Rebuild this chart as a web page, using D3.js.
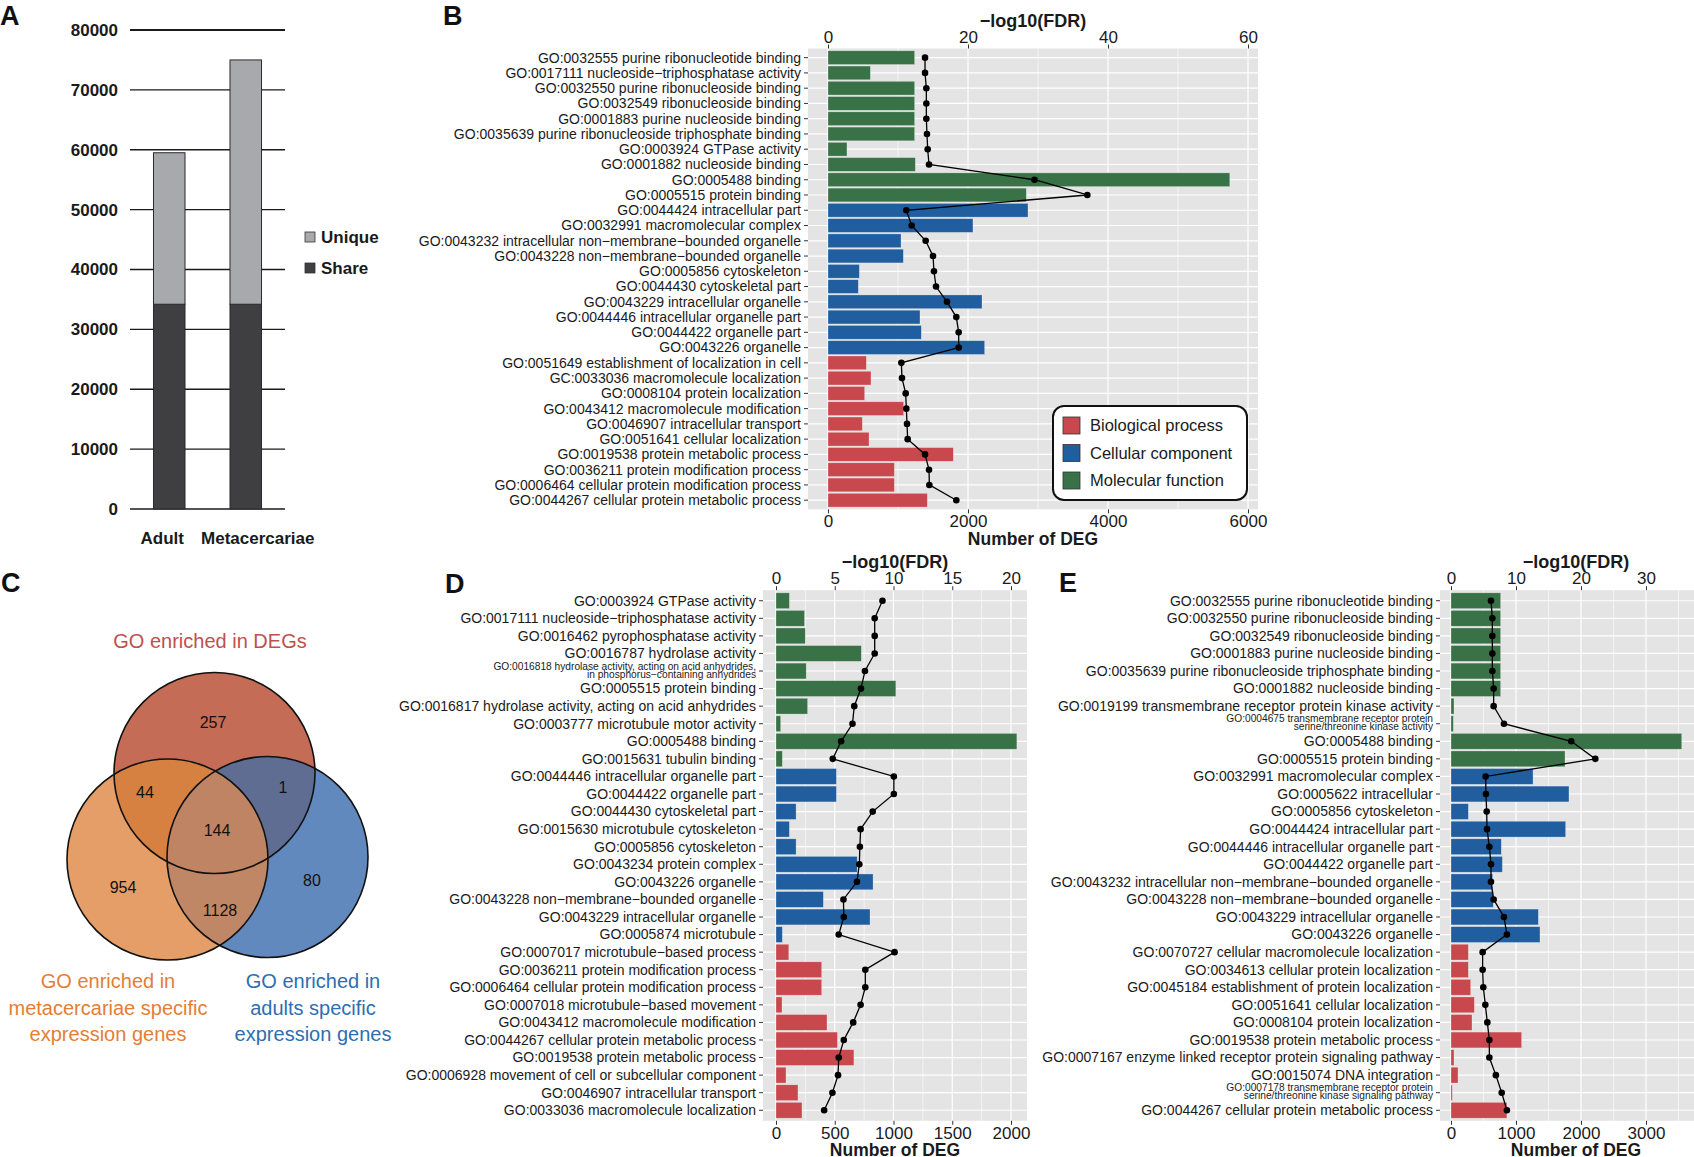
<!DOCTYPE html>
<html>
<head>
<meta charset="utf-8">
<script src="https://cdn.jsdelivr.net/npm/d3@7"></script>
<style>
body { margin: 0; background: #fff; }
svg { font-family: 'Liberation Sans', Arial, sans-serif; }
</style>
</head>
<body>
<svg id="fig" width="1694" height="1157"></svg>
<script>
// ---------- data ----------
// panel A
const stages = ['Adult', 'Metacercariae'];
const shareCounts = [34200, 34200];
const uniqueCounts = [25300, 40800];
const aTicks = [0, 10000, 20000, 30000, 40000, 50000, 60000, 70000, 80000];

// panel C (venn)
const vennRegions = ['DEG only', 'DEG+meta', 'DEG+adult', 'all', 'meta only', 'adult only', 'meta+adult'];
const vennCounts = [257, 44, 1, 144, 954, 80, 1128];

// panel B
const bTerms = [
  'GO:0032555 purine ribonucleotide binding',
  'GO:0017111 nucleoside−triphosphatase activity',
  'GO:0032550 purine ribonucleoside binding',
  'GO:0032549 ribonucleoside binding',
  'GO:0001883 purine nucleoside binding',
  'GO:0035639 purine ribonucleoside triphosphate binding',
  'GO:0003924 GTPase activity',
  'GO:0001882 nucleoside binding',
  'GO:0005488 binding',
  'GO:0005515 protein binding',
  'GO:0044424 intracellular part',
  'GO:0032991 macromolecular complex',
  'GO:0043232 intracellular non−membrane−bounded organelle',
  'GO:0043228 non−membrane−bounded organelle',
  'GO:0005856 cytoskeleton',
  'GO:0044430 cytoskeletal part',
  'GO:0043229 intracellular organelle',
  'GO:0044446 intracellular organelle part',
  'GO:0044422 organelle part',
  'GO:0043226 organelle',
  'GO:0051649 establishment of localization in cell',
  'GC:0033036 macromolecule localization',
  'GO:0008104 protein localization',
  'GO:0043412 macromolecule modification',
  'GO:0046907 intracellular transport',
  'GO:0051641 cellular localization',
  'GO:0019538 protein metabolic process',
  'GO:0036211 protein modification process',
  'GO:0006464 cellular protein modification process',
  'GO:0044267 cellular protein metabolic process'
];
const bCats = ['MF','MF','MF','MF','MF','MF','MF','MF','MF','MF',
  'CC','CC','CC','CC','CC','CC','CC','CC','CC','CC',
  'BP','BP','BP','BP','BP','BP','BP','BP','BP','BP'];
const bDeg = [1238, 605, 1238, 1238, 1238, 1238, 271, 1248, 5740, 2833,
  2857, 2071, 1043, 1076, 448, 433, 2200, 1314, 1333, 2238,
  548, 614, 524, 1081, 490, 586, 1790, 948, 948, 1419];
const bFdr = [13.86, 13.86, 14.05, 14.05, 14.05, 14.14, 14.24, 14.43, 29.5, 37.05,
  11.19, 11.95, 13.95, 15.0, 15.14, 15.43, 17.0, 18.33, 18.67, 18.67,
  10.48, 10.57, 11.1, 11.19, 11.29, 11.38, 13.86, 14.43, 14.48, 18.33];

// panel D
const dTerms = [
  'GO:0003924 GTPase activity',
  'GO:0017111 nucleoside−triphosphatase activity',
  'GO:0016462 pyrophosphatase activity',
  'GO:0016787 hydrolase activity',
  'GO:0016818 hydrolase activity, acting on acid anhydrides,\nin phosphorus−containing anhydrides',
  'GO:0005515 protein binding',
  'GO:0016817 hydrolase activity, acting on acid anhydrides',
  'GO:0003777 microtubule motor activity',
  'GO:0005488 binding',
  'GO:0015631 tubulin binding',
  'GO:0044446 intracellular organelle part',
  'GO:0044422 organelle part',
  'GO:0044430 cytoskeletal part',
  'GO:0015630 microtubule cytoskeleton',
  'GO:0005856 cytoskeleton',
  'GO:0043234 protein complex',
  'GO:0043226 organelle',
  'GO:0043228 non−membrane−bounded organelle',
  'GO:0043229 intracellular organelle',
  'GO:0005874 microtubule',
  'GO:0007017 microtubule−based process',
  'GO:0036211 protein modification process',
  'GO:0006464 cellular protein modification process',
  'GO:0007018 microtubule−based movement',
  'GO:0043412 macromolecule modification',
  'GO:0044267 cellular protein metabolic process',
  'GO:0019538 protein metabolic process',
  'GO:0006928 movement of cell or subcellular component',
  'GO:0046907 intracellular transport',
  'GO:0033036 macromolecule localization'
];
const dCats = ['MF','MF','MF','MF','MF','MF','MF','MF','MF','MF',
  'CC','CC','CC','CC','CC','CC','CC','CC','CC','CC',
  'BP','BP','BP','BP','BP','BP','BP','BP','BP','BP'];
const dDeg = [114, 243, 249, 726, 257, 1020, 269, 40, 2050, 54,
  514, 514, 171, 114, 171, 691, 826, 403, 800, 54,
  109, 389, 389, 51, 434, 523, 663, 85, 187, 221];
const dFdr = [9.06, 8.4, 8.4, 8.4, 7.57, 7.23, 6.66, 6.51, 5.54, 4.83,
  10.03, 10.03, 8.23, 7.2, 7.14, 7.09, 6.89, 5.74, 5.77, 5.34,
  10.09, 7.6, 7.6, 7.2, 6.57, 5.77, 5.34, 5.28, 4.8, 4.1];

// panel E
const eTerms = [
  'GO:0032555 purine ribonucleotide binding',
  'GO:0032550 purine ribonucleoside binding',
  'GO:0032549 ribonucleoside binding',
  'GO:0001883 purine nucleoside binding',
  'GO:0035639 purine ribonucleoside triphosphate binding',
  'GO:0001882 nucleoside binding',
  'GO:0019199 transmembrane receptor protein kinase activity',
  'GO:0004675 transmembrane receptor protein\nserine/threonine kinase activity',
  'GO:0005488 binding',
  'GO:0005515 protein binding',
  'GO:0032991 macromolecular complex',
  'GO:0005622 intracellular',
  'GO:0005856 cytoskeleton',
  'GO:0044424 intracellular part',
  'GO:0044446 intracellular organelle part',
  'GO:0044422 organelle part',
  'GO:0043232 intracellular non−membrane−bounded organelle',
  'GO:0043228 non−membrane−bounded organelle',
  'GO:0043229 intracellular organelle',
  'GO:0043226 organelle',
  'GO:0070727 cellular macromolecule localization',
  'GO:0034613 cellular protein localization',
  'GO:0045184 establishment of protein localization',
  'GO:0051641 cellular localization',
  'GO:0008104 protein localization',
  'GO:0019538 protein metabolic process',
  'GO:0007167 enzyme linked receptor protein signaling pathway',
  'GO:0015074 DNA integration',
  'GO:0007178 transmembrane receptor protein\nserine/threonine kinase signaling pathway',
  'GO:0044267 cellular protein metabolic process'
];
const eCats = ['MF','MF','MF','MF','MF','MF','MF','MF','MF','MF',
  'CC','CC','CC','CC','CC','CC','CC','CC','CC','CC',
  'BP','BP','BP','BP','BP','BP','BP','BP','BP','BP'];
const eDeg = [764, 764, 764, 764, 764, 764, 46, 36, 3550, 1754,
  1262, 1815, 267, 1764, 774, 790, 641, 651, 1344, 1369,
  267, 267, 303, 359, 323, 1087, 46, 108, 20, 860];
const eFdr = [6.15, 6.36, 6.36, 6.36, 6.36, 6.56, 6.56, 8.15, 18.5, 22.2,
  5.33, 5.38, 5.49, 5.54, 5.9, 6.15, 6.15, 6.56, 8.15, 8.6,
  4.87, 4.87, 4.97, 5.28, 5.59, 5.9, 5.9, 6.9, 7.8, 8.6];

const catNames = ['Biological process', 'Cellular component', 'Molecular function'];
const catKeys = ['BP', 'CC', 'MF'];
const catColor = { BP: '#c8484e', CC: '#205e9f', MF: '#3a7247' };

// ---------- drawing ----------
const svg = d3.select('#fig');

// panel letters
[['A', 0, 25], ['B', 443, 25], ['C', 1, 592], ['D', 445, 593], ['E', 1059, 592]].forEach(p => {
  svg.append('text').attr('x', p[1]).attr('y', p[2]).text(p[0])
    .attr('font-size', 27).attr('font-weight', 'bold').attr('fill', '#111');
});

// ----- A: stacked bars -----
const yA = d3.scaleLinear().domain([0, 80000]).range([509, 30]);
const xA = d3.scaleBand().domain(stages).range([130, 285]).paddingInner(0.588).paddingOuter(0.307);
const gA = svg.append('g');

gA.selectAll('line.grid').data(aTicks).join('line')
  .attr('x1', 130).attr('x2', 285)
  .attr('y1', d => yA(d)).attr('y2', d => yA(d))
  .attr('stroke', '#1a1a1a').attr('stroke-width', d => d === 80000 ? 2 : 1.4);
gA.selectAll('text.tick').data(aTicks).join('text')
  .attr('x', 118).attr('y', d => yA(d)).attr('dy', '0.35em')
  .attr('text-anchor', 'end').attr('font-size', 17).attr('font-weight', 'bold').attr('fill', '#1a1a1a')
  .text(d => d);

const stackA = stages.map((s, i) => ({ s, share: shareCounts[i], unique: uniqueCounts[i] }));
gA.selectAll('rect.share').data(stackA).join('rect')
  .attr('x', d => xA(d.s)).attr('width', xA.bandwidth())
  .attr('y', d => yA(d.share)).attr('height', d => yA(0) - yA(d.share))
  .attr('fill', '#3f3e41').attr('stroke', '#2a2a2a').attr('stroke-width', 1);
gA.selectAll('rect.unique').data(stackA).join('rect')
  .attr('x', d => xA(d.s)).attr('width', xA.bandwidth())
  .attr('y', d => yA(d.share + d.unique)).attr('height', d => yA(d.share) - yA(d.share + d.unique))
  .attr('fill', '#a8a9ad').attr('stroke', '#2a2a2a').attr('stroke-width', 1);

const stageOffset = [-7, 12];
gA.selectAll('text.stage').data(stages).join('text')
  .attr('x', (d, i) => xA(d) + xA.bandwidth() / 2 + stageOffset[i]).attr('y', 544)
  .attr('text-anchor', 'middle').attr('font-size', 17).attr('font-weight', 'bold').attr('fill', '#1a1a1a')
  .text(d => d);

[['Unique', '#a8a9ad', 232], ['Share', '#3f3e41', 263]].forEach(l => {
  gA.append('rect').attr('x', 305).attr('y', l[2]).attr('width', 10).attr('height', 10)
    .attr('fill', l[1]).attr('stroke', '#333').attr('stroke-width', 0.8);
  gA.append('text').attr('x', 321).attr('y', l[2] + 11).text(l[0])
    .attr('font-size', 17).attr('font-weight', 'bold').attr('fill', '#1a1a1a');
});

// ----- C: venn -----
const gC = svg.append('g');
const circ = {
  top: { cx: 214.5, cy: 773, r: 100.5 },
  left: { cx: 167.5, cy: 859.5, r: 100.5 },
  right: { cx: 267.5, cy: 857, r: 100.5 }
};
const defs = svg.append('defs');
Object.keys(circ).forEach(k => {
  defs.append('clipPath').attr('id', 'clip-' + k).append('circle')
    .attr('cx', circ[k].cx).attr('cy', circ[k].cy).attr('r', circ[k].r);
});
function disc(parent, k, fill) {
  parent.append('circle').attr('cx', circ[k].cx).attr('cy', circ[k].cy).attr('r', circ[k].r).attr('fill', fill);
}
disc(gC, 'left', '#e59e67');
disc(gC, 'right', '#6189be');
disc(gC, 'top', '#c56c57');
disc(gC.append('g').attr('clip-path', 'url(#clip-left)'), 'right', '#c08766');
disc(gC.append('g').attr('clip-path', 'url(#clip-left)'), 'top', '#d68142');
disc(gC.append('g').attr('clip-path', 'url(#clip-right)'), 'top', '#5f6d92');
disc(gC.append('g').attr('clip-path', 'url(#clip-right)').append('g').attr('clip-path', 'url(#clip-left)'), 'top', '#bf8463');
Object.keys(circ).forEach(k => {
  gC.append('circle').attr('cx', circ[k].cx).attr('cy', circ[k].cy).attr('r', circ[k].r)
    .attr('fill', 'none').attr('stroke', '#111').attr('stroke-width', 1.6);
});
const vennPos = [[213, 722], [145, 792], [283, 787], [217, 830], [123, 887], [312, 880], [220, 910]];
gC.selectAll('text.count').data(vennCounts).join('text')
  .attr('x', (d, i) => vennPos[i][0]).attr('y', (d, i) => vennPos[i][1]).attr('dy', '0.35em')
  .attr('text-anchor', 'middle').attr('font-size', 16).attr('fill', '#111')
  .text(d => d);

gC.append('text').attr('x', 210).attr('y', 648).attr('text-anchor', 'middle')
  .attr('font-size', 20).attr('fill', '#c0504d').text('GO enriched in DEGs');
[['GO enriched in', 'metacercariae specific', 'expression genes', 108, '#e37e35'],
 ['GO enriched in', 'adults specific', 'expression genes', 313, '#2e6eb0']].forEach(t => {
  [0, 1, 2].forEach(j => {
    gC.append('text').attr('x', t[3]).attr('y', 988 + j * 26.5).attr('text-anchor', 'middle')
      .attr('font-size', 20).attr('fill', t[4]).text(t[j]);
  });
});

// ----- B, D, E: GO bar + line panels -----
function drawGoPanel(cfg) {
  const n = cfg.terms.length;
  const bottom = cfg.top + cfg.step * (n + 0.2);
  const g = svg.append('g');
  const y = d3.scaleBand().domain(d3.range(n)).range([cfg.top, bottom])
    .paddingInner(0.1).paddingOuter(0.15);
  const yc = i => y(i) + y.bandwidth() / 2;
  const xDeg = d3.scaleLinear().domain([0, cfg.degMax]).range([cfg.x0, cfg.x1]);
  const xFdr = d3.scaleLinear().domain([0, cfg.fdrMax]).range([cfg.x0, cfg.x1]);

  g.append('rect').attr('x', cfg.left).attr('y', cfg.top)
    .attr('width', cfg.right - cfg.left).attr('height', bottom - cfg.top).attr('fill', '#e4e4e4');

  const step = cfg.degTicks[1] - cfg.degTicks[0];
  const minor = cfg.degTicks.map(t => t + step / 2).filter(t => xDeg(t) < cfg.right);
  g.selectAll('line.minor').data(minor).join('line')
    .attr('x1', d => xDeg(d)).attr('x2', d => xDeg(d)).attr('y1', cfg.top).attr('y2', bottom)
    .attr('stroke', '#fff').attr('stroke-width', 0.6);
  g.selectAll('line.major').data(cfg.degTicks).join('line')
    .attr('x1', d => xDeg(d)).attr('x2', d => xDeg(d)).attr('y1', cfg.top).attr('y2', bottom)
    .attr('stroke', '#fff').attr('stroke-width', 1.2);
  g.selectAll('line.hgrid').data(d3.range(n)).join('line')
    .attr('x1', cfg.left).attr('x2', cfg.right).attr('y1', yc).attr('y2', yc)
    .attr('stroke', '#fff').attr('stroke-width', 1.2);

  g.selectAll('rect.bar').data(d3.range(n)).join('rect')
    .attr('x', xDeg(0)).attr('y', i => y(i))
    .attr('width', i => xDeg(cfg.deg[i]) - xDeg(0)).attr('height', y.bandwidth())
    .attr('fill', i => catColor[cfg.cats[i]])
    .attr('stroke', '#fff').attr('stroke-opacity', 0.45).attr('stroke-width', 0.6);

  const line = d3.line().x(i => xFdr(cfg.fdr[i])).y(yc);
  g.append('path').datum(d3.range(n)).attr('d', line)
    .attr('fill', 'none').attr('stroke', '#000').attr('stroke-width', 1.3);
  g.selectAll('circle.pt').data(d3.range(n)).join('circle')
    .attr('cx', i => xFdr(cfg.fdr[i])).attr('cy', yc).attr('r', 3.3).attr('fill', '#000');

  // category axis
  g.selectAll('line.ytick').data(d3.range(n)).join('line')
    .attr('x1', cfg.left - 4).attr('x2', cfg.left).attr('y1', yc).attr('y2', yc)
    .attr('stroke', '#333').attr('stroke-width', 1);
  const lab = g.selectAll('text.ylab').data(d3.range(n)).join('text')
    .attr('x', cfg.left - 7).attr('y', yc)
    .attr('text-anchor', 'end').attr('fill', '#1a1a1a');
  lab.each(function (i) {
    const parts = cfg.terms[i].split('\n');
    const t = d3.select(this);
    if (parts.length === 1) {
      t.attr('font-size', 14).attr('dy', '0.35em').text(parts[0]);
    } else {
      t.attr('font-size', 10.2);
      t.append('tspan').attr('x', cfg.left - 7).attr('dy', -1.5).text(parts[0]);
      t.append('tspan').attr('x', cfg.left - 7).attr('dy', 8).text(parts[1]);
    }
  });

  // numeric axes
  const top = g.append('g').attr('transform', `translate(0,${cfg.top})`)
    .call(d3.axisTop(xFdr).tickValues(cfg.fdrTicks).tickFormat(d3.format('d')).tickSize(4).tickPadding(2));
  const bot = g.append('g').attr('transform', `translate(0,${bottom})`)
    .call(d3.axisBottom(xDeg).tickValues(cfg.degTicks).tickFormat(d3.format('d')).tickSize(4).tickPadding(2));
  [top, bot].forEach(a => {
    a.select('.domain').remove();
    a.selectAll('line').attr('stroke', '#333');
    a.selectAll('text').attr('font-size', 17).attr('fill', '#1a1a1a')
      .attr('font-family', "'Liberation Sans', Arial, sans-serif");
  });
  const mid = (cfg.left + cfg.titleRight) / 2;
  g.append('text').attr('x', mid).attr('y', cfg.top - 22).attr('text-anchor', 'middle')
    .attr('font-size', 18).attr('font-weight', 'bold').attr('fill', '#1a1a1a').text('−log10(FDR)');
  g.append('text').attr('x', mid).attr('y', Math.min(bottom + 36, 1156)).attr('text-anchor', 'middle')
    .attr('font-size', 17.5).attr('font-weight', 'bold').attr('fill', '#1a1a1a').text('Number of DEG');
  return g;
}

const gB = drawGoPanel({
  terms: bTerms, cats: bCats, deg: bDeg, fdr: bFdr,
  top: 48.5, step: 15.26, left: 808, right: 1258, titleRight: 1258,
  x0: 828, x1: 1248, degMax: 6000, fdrMax: 60,
  degTicks: [0, 2000, 4000, 6000], fdrTicks: [0, 20, 40, 60]
});

drawGoPanel({
  terms: dTerms, cats: dCats, deg: dDeg, fdr: dFdr,
  top: 590.2, step: 17.57, left: 763, right: 1027, titleRight: 1027,
  x0: 776, x1: 1011, degMax: 2000, fdrMax: 20,
  degTicks: [0, 500, 1000, 1500, 2000], fdrTicks: [0, 5, 10, 15, 20]
});

drawGoPanel({
  terms: eTerms, cats: eCats, deg: eDeg, fdr: eFdr,
  top: 590.2, step: 17.57, left: 1440, right: 1712, titleRight: 1712,
  x0: 1451, x1: 1646, degMax: 3000, fdrMax: 30,
  degTicks: [0, 1000, 2000, 3000], fdrTicks: [0, 10, 20, 30]
});

// legend for B
const lg = gB.append('g');
lg.append('rect').attr('x', 1053).attr('y', 406).attr('width', 194).attr('height', 94)
  .attr('rx', 11).attr('fill', '#fff').attr('stroke', '#111').attr('stroke-width', 2);
lg.selectAll('rect.key').data(catKeys).join('rect')
  .attr('x', 1063).attr('y', (d, i) => 417 + i * 27.5).attr('width', 17).attr('height', 17)
  .attr('fill', d => catColor[d]).attr('stroke', '#333').attr('stroke-width', 0.8);
lg.selectAll('text.key').data(catNames).join('text')
  .attr('x', 1090).attr('y', (d, i) => 425.5 + i * 27.5).attr('dy', '0.35em')
  .attr('font-size', 16.5).attr('fill', '#1a1a1a').text(d => d);
</script>
</body>
</html>
